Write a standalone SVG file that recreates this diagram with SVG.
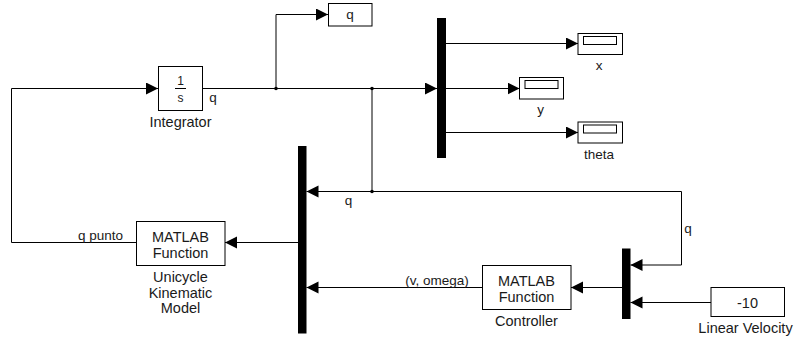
<svg xmlns="http://www.w3.org/2000/svg" width="797" height="341" viewBox="0 0 797 341">
<style>
.blk{fill:#fff;stroke:#000;stroke-width:1}
.bar{fill:#000}
.w{fill:none;stroke:#000;stroke-width:1}
.t{font-family:"Liberation Sans",Arial,sans-serif;font-size:14.5px;fill:#1a1a1a;text-anchor:middle}
.s{font-family:"Liberation Sans",Arial,sans-serif;font-size:13.5px;fill:#1a1a1a;text-anchor:middle}
.dot{fill:#000}
</style>
<defs>
<marker id="ar" markerUnits="userSpaceOnUse" markerWidth="13" markerHeight="13" refX="12" refY="6" orient="auto">
<path d="M0,0 L12,6 L0,12 z" fill="#000"/>
</marker>
</defs>
<rect width="797" height="341" fill="#fff"/>
<g id="connectors">
<path class="w" d="M136,242.5 H11.5 V88.5 H158" marker-end="url(#ar)"/>
<path class="w" d="M203,88.5 H437" marker-end="url(#ar)"/>
<path class="w" d="M276,88.5 V14.5 H328" marker-end="url(#ar)"/>
<path class="w" d="M372,88.5 V191.5 H306.5" marker-end="url(#ar)"/>
<path class="w" d="M372,191.5 H681.5 V265 H630.5" marker-end="url(#ar)"/>
<path class="w" d="M446,43.5 H578" marker-end="url(#ar)"/>
<path class="w" d="M446,88.5 H519.5" marker-end="url(#ar)"/>
<path class="w" d="M446,132.5 H578" marker-end="url(#ar)"/>
<path class="w" d="M298,242.5 H225" marker-end="url(#ar)"/>
<path class="w" d="M482.5,287.5 H306.5" marker-end="url(#ar)"/>
<path class="w" d="M622,287.5 H571" marker-end="url(#ar)"/>
<path class="w" d="M711,302.5 H630.5" marker-end="url(#ar)"/>
<circle class="dot" cx="276" cy="88.5" r="1.8"/>
<circle class="dot" cx="372" cy="88.5" r="1.8"/>
<circle class="dot" cx="372" cy="191.5" r="1.8"/>
<text class="s" x="213" y="102">q</text>
<text class="s" x="348.5" y="204.5">q</text>
<text class="s" x="688" y="233">q</text>
<text class="s" x="100.5" y="239.5">q punto</text>
<text class="s" x="437" y="285">(v, omega)</text>
</g>
<g id="integrator">
<rect class="blk" x="158.5" y="66.5" width="44" height="44"/>
<text class="t" x="180.5" y="85" style="font-size:12px">1</text>
<line class="w" x1="175" y1="88.5" x2="186" y2="88.5"/>
<text class="t" x="180.5" y="102" style="font-size:12px">s</text>
<text class="t" x="180.5" y="127">Integrator</text>
</g>
<g id="q_out">
<rect class="blk" x="328.5" y="3.5" width="43.5" height="22.5"/>
<text class="s" x="350" y="19">q</text>
</g>
<g id="demux">
<rect class="bar" x="437" y="18" width="9" height="140"/>
</g>
<g id="x_display">
<rect class="blk" x="578" y="33.5" width="44.5" height="21"/>
<rect class="blk" x="583.5" y="36.5" width="33" height="8"/>
<text class="s" x="599" y="69.5">x</text>
</g>
<g id="y_display">
<rect class="blk" x="519.5" y="77.5" width="44" height="21.5"/>
<rect class="blk" x="525" y="80.5" width="33" height="8"/>
<text class="s" x="540.5" y="113.5">y</text>
</g>
<g id="theta_display">
<rect class="blk" x="578" y="122" width="44.5" height="21"/>
<rect class="blk" x="583.5" y="125" width="33" height="8"/>
<text class="s" x="599" y="158.5">theta</text>
</g>
<g id="mux_main">
<rect class="bar" x="298" y="146" width="8.5" height="187.5"/>
</g>
<g id="unicycle">
<rect class="blk" x="136.5" y="221.5" width="88.5" height="44"/>
<text class="t" x="180.5" y="241.5">MATLAB</text>
<text class="t" x="180.5" y="257.5">Function</text>
<text class="t" x="180.5" y="282">Unicycle</text>
<text class="t" x="180.5" y="297.5">Kinematic</text>
<text class="t" x="180.5" y="313">Model</text>
</g>
<g id="mux_ctrl">
<rect class="bar" x="622" y="248.5" width="8.5" height="70.5"/>
</g>
<g id="controller">
<rect class="blk" x="482.5" y="265.5" width="88.5" height="44"/>
<text class="t" x="526.5" y="286">MATLAB</text>
<text class="t" x="526.5" y="302">Function</text>
<text class="t" x="526.5" y="326">Controller</text>
</g>
<g id="linear_velocity">
<rect class="blk" x="711" y="287.5" width="73.5" height="29"/>
<text class="t" x="747.5" y="308">-10</text>
<text class="t" x="745.5" y="333">Linear Velocity</text>
</g>
</svg>
